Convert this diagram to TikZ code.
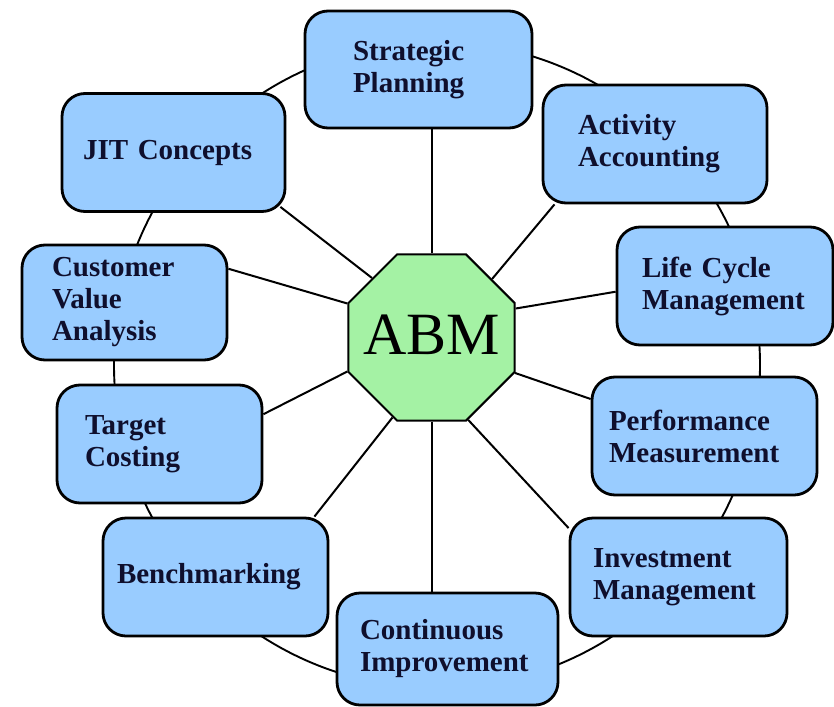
\documentclass[tikz,border=0pt]{standalone}
\usepackage{fontspec}
\setmainfont{Liberation Serif}
\usetikzlibrary{shapes.geometric}
\definecolor{topicblue}{RGB}{153,204,255}
\definecolor{coregreen}{RGB}{164,242,164}
\definecolor{labelink}{RGB}{15,15,45}
\tikzstyle{topic-node}=[draw=black,line width=2.8pt,fill=topicblue,rounded corners=23pt,
  minimum height=118pt,align=left,text=labelink,
  font=\bfseries\fontsize{29}{32}\selectfont]
\tikzstyle{core-node}=[draw=black,line width=2pt,fill=coregreen,regular polygon,
  regular polygon sides=8,minimum size=180pt,inner sep=0pt]
\tikzstyle{core-label}=[inner sep=0pt,font=\fontsize{60}{60}\selectfont]
\tikzstyle{ring-node}=[draw=black,line width=1.9pt,circle,minimum size=646pt,inner sep=0pt]
\tikzstyle{black-line}=[draw=black,line width=2pt]

\begin{document}
\begin{tikzpicture}[x=1pt,y=-1pt]
	\useasboundingbox (0,0) rectangle (834,706);

	% the ring behind the ten boxes
	\node (ring)[ring-node] at (437,365) {};

	\begin{scope}
	\node (abm)[core-node,label={[core-label,yshift=3pt]center:ABM}] at (431.5,337.5) {};

	\node (sp)[topic-node,text width=131pt,inner xsep=48pt,minimum height=117pt] at (418.5,69.5) {Strategic\\Planning};
	\node (act)[topic-node,text width=154pt,inner xsep=35pt] at (655,144) {Activity\\Accounting};
	\node (lc)[topic-node,text width=166pt,inner xsep=25pt] at (725,286) {Life Cycle\\Management};
	\node (perf)[topic-node,text width=191pt,inner xsep=17pt] at (704.5,436) {Performance\\Measurement};
	\node (inv)[topic-node,text width=171pt,inner xsep=23pt] at (678.5,577) {Investment\\Management};
	\node (cont)[topic-node,text width=175pt,inner xsep=23pt,minimum height=112pt] at (447.5,649) {Continuous\\Improvement};
	\node (bench)[topic-node,text width=197pt,inner xsep=14pt] at (215.5,577) {Benchmarking};
	\node (target)[topic-node,text width=149pt,inner xsep=28pt] at (159.5,444) {Target\\Costing};
	\node (cust)[topic-node,text width=145pt,inner xsep=30pt,minimum height=115pt] at (124.5,302.5) {Customer\\Value\\Analysis};
	\node (jit)[topic-node,text width=181pt,inner xsep=21pt] at (173.5,152.5) {JIT Concepts};
	\end{scope}

	% spokes from the octagon out to every box
	\begin{scope}[every edge/.style=black-line]
	\path (abm.north) edge (abm.north |- sp.south);
	\path (abm.44) edge (act.211);
	\path (abm.19) edge (lc.183);
	\path (abm.-23) edge (perf.162);
	\path (abm.-66) edge (inv.156);
	\path (abm.south) edge (abm.south |- cont.north);
	\path (abm.-116) edge ([xshift=-15pt]bench.north east);
	\path (abm.202) edge (target.16);
	\path (abm.158) edge (cust.18);
	\path (abm.135) edge ([xshift=-6pt,yshift=6pt]jit.south east);
	\end{scope}
\end{tikzpicture}
\end{document}
